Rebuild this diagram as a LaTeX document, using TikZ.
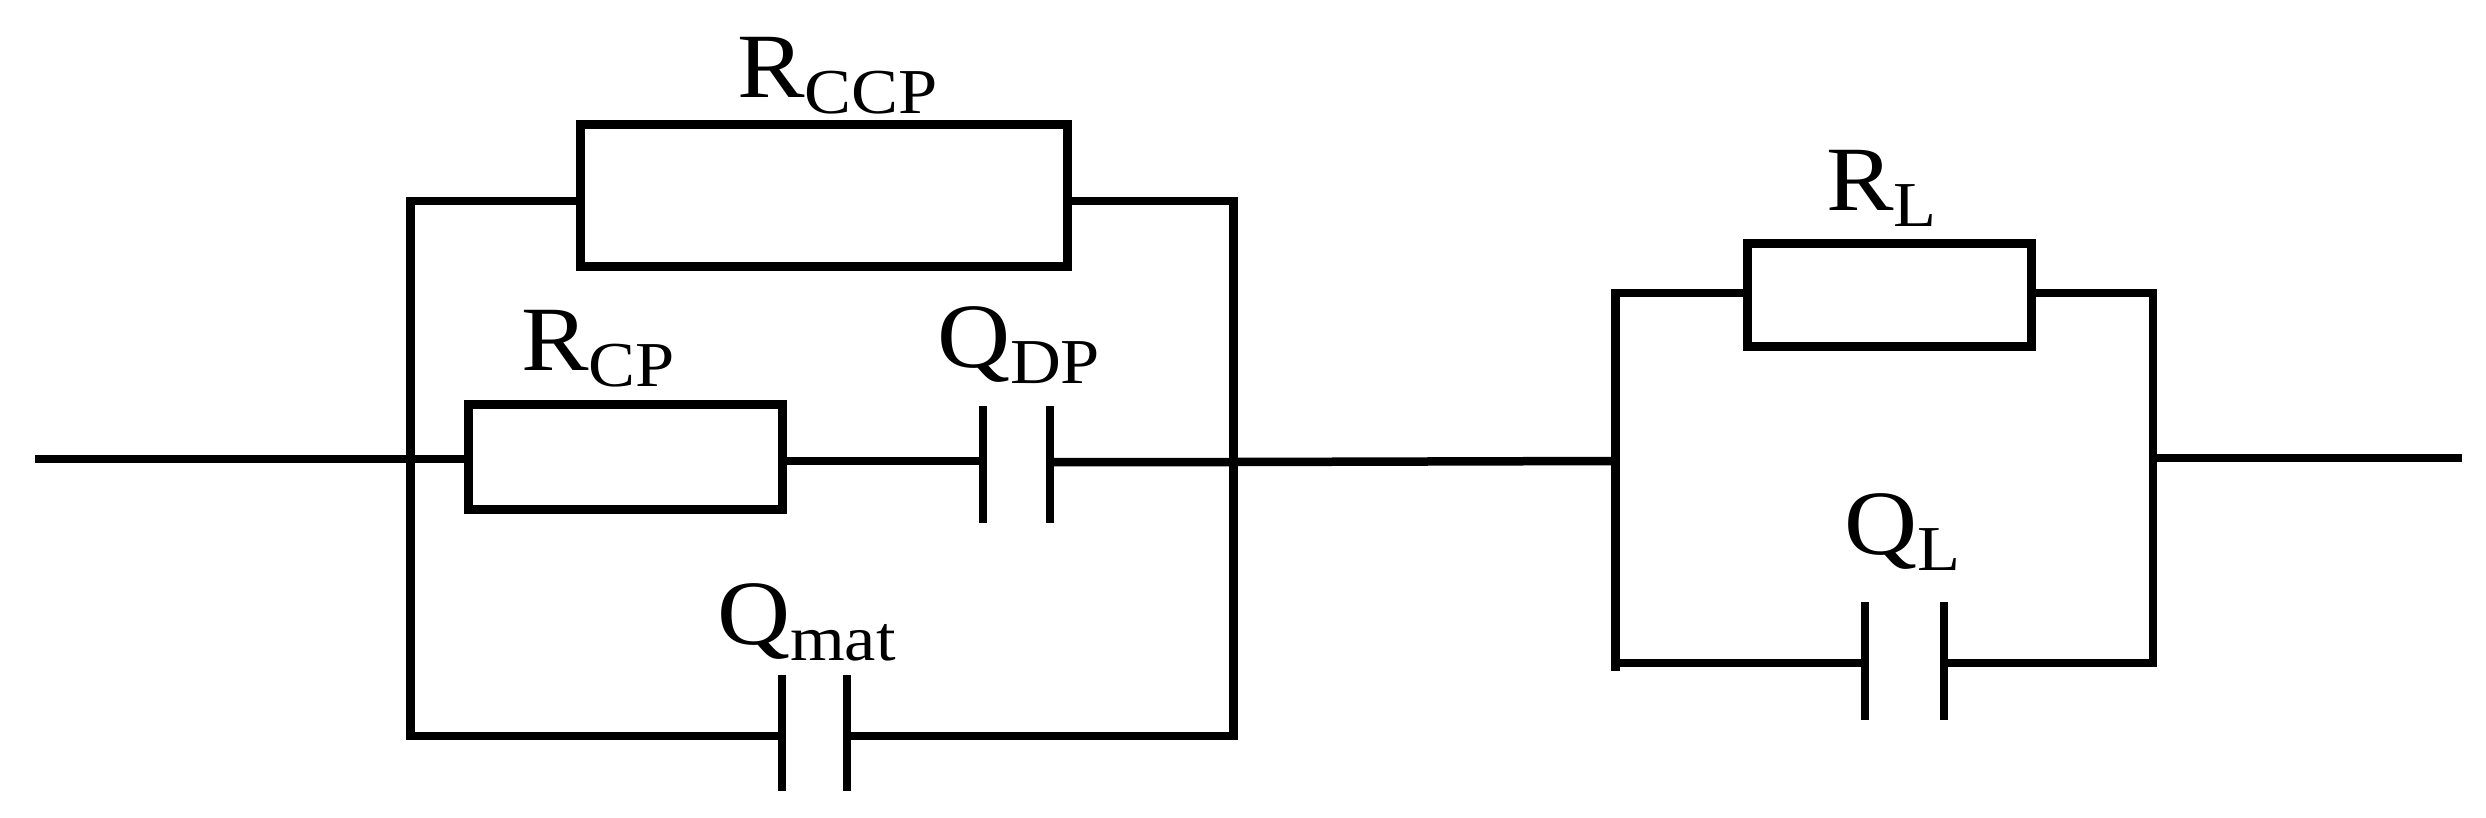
\documentclass[tikz,border=0pt]{standalone}
\usepackage{fontspec}
\setmainfont{Liberation Serif}
\newcommand{\lab}[2]{\scalebox{1.1}[1]{\fontsize{92}{92}\selectfont #1\raisebox{-16pt}{\fontsize{64}{64}\selectfont #2}}}
\tikzset{
  wire/.style={line width=8.5pt,line cap=butt,line join=miter},
  res/.style={draw=black,line width=9pt,fill=none,inner sep=0pt,outer sep=0pt},
  plate/.style={fill=black,inner sep=0pt,outer sep=0pt,minimum width=8pt},
  txt/.style={anchor=base west,inner sep=0pt,outer sep=0pt,text=black}
}
\begin{document}
\begin{tikzpicture}[x=1pt,y=-1pt]
\useasboundingbox (0,0) rectangle (2486,817);
\fill[white] (0,0) rectangle (2486,817);
% resistors
\node[res,minimum width=487pt,minimum height=142pt] (rccp) at (823.5,195) {};
\node[res,minimum width=314pt,minimum height=105pt] (rcp) at (625,456.5) {};
\node[res,minimum width=284pt,minimum height=103pt] (rl) at (1889,294.5) {};
% capacitor plates
\node[plate,minimum height=117pt] (qdpa) at (983,464.5) {};
\node[plate,minimum height=117pt] (qdpb) at (1050,464.5) {};
\node[plate,minimum height=116pt] (qmata) at (782,733) {};
\node[plate,minimum height=116pt] (qmatb) at (847,733) {};
\node[plate,minimum height=118pt] (qla) at (1865,661) {};
\node[plate,minimum height=118pt] (qlb) at (1944,661) {};
% free ends and corners
\coordinate (in) at (35,459);
\coordinate (out) at (2462,458);
\coordinate (ltl) at (410.5,201);
\coordinate (ltr) at (1233.5,201);
\coordinate (lbl) at (410.5,736);
\coordinate (lbr) at (1233.5,736);
\coordinate (rtl) at (1615.5,293);
\coordinate (rtr) at (2153,293);
\coordinate (rbl) at (1615.5,663);
\coordinate (rbr) at (2153,663);
\coordinate (rblend) at (1615.5,671);
\coordinate (jl) at (1615.5,461);
\coordinate (jr) at (2153,458);
\coordinate (jm) at (1233.5,462);
\coordinate (cw) at (983,461);
% connectors
\draw[wire] (in) -- (rcp.west |- in);
\draw[wire] (rcp.east |- cw) -- (qdpa.west |- cw);
\draw[wire] (qdpb.east |- jm) -- (jm) -- (jl);
\draw[wire] (jr) -- (out);
\draw[wire] (rccp.west |- ltl) -- (ltl) -- (lbl) -- (qmata.center |- lbl);
\draw[wire] (rccp.east |- ltr) -- (ltr) -- (lbr) -- (qmatb.center |- lbr);
\draw[wire] (rl.west |- rtl) -- (rtl) -- (rblend);
\draw[wire] (rbl) -- (qla.center |- rbl);
\draw[wire] (rl.east |- rtr) -- (rtr) -- (rbr) -- (qlb.center |- rbr);
% labels
\node[txt] (t1) at (737,97) {\lab{R}{CCP}};
\node[txt] (t2) at (521,370) {\lab{R}{CP}};
\node[txt] (t3) at (937,367) {\lab{Q}{DP}};
\node[txt] (t4) at (717,644) {\lab{Q}{mat}};
\node[txt] (t5) at (1826,210) {\lab{R}{L}};
\node[txt] (t6) at (1844,554) {\lab{Q}{L}};
\end{tikzpicture}
\end{document}
